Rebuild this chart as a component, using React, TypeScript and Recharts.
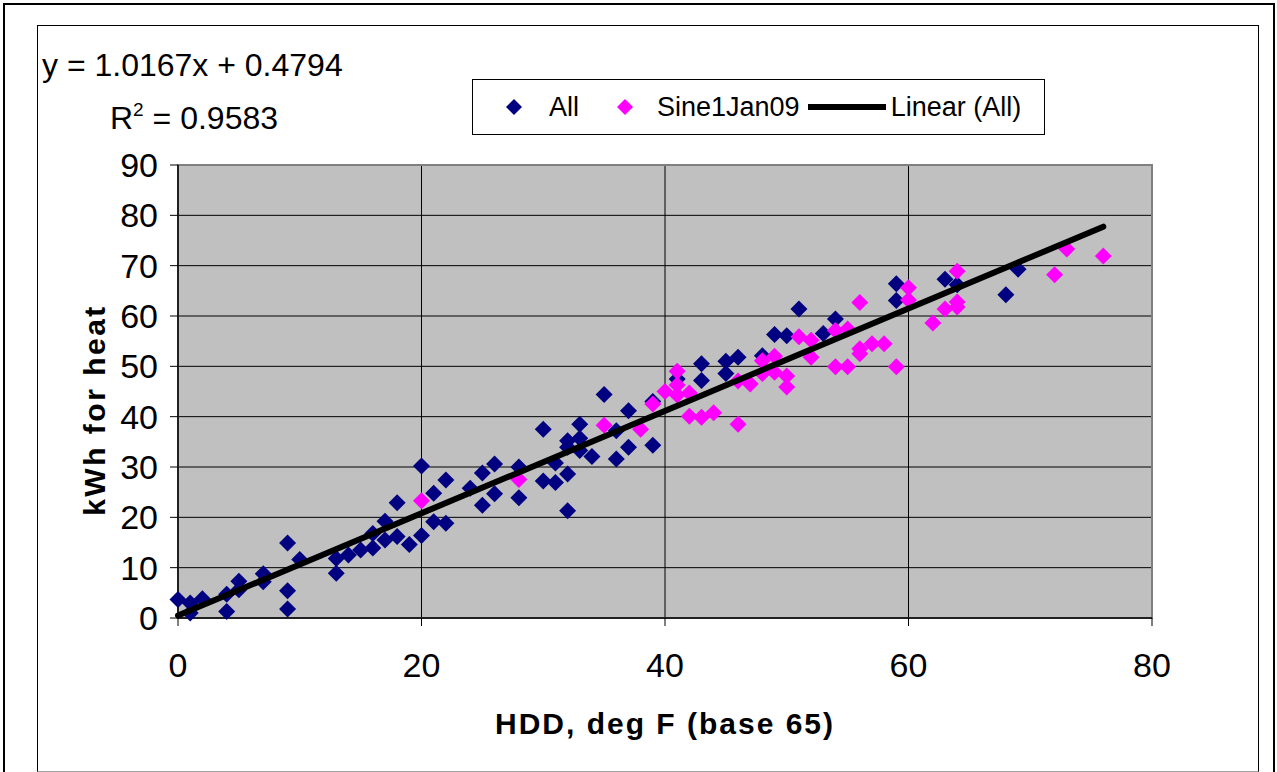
import React from "react";
import {
  ScatterChart,
  Scatter,
  XAxis,
  YAxis,
  CartesianGrid,
  Legend,
  ReferenceArea,
} from "recharts";

// heating degree days vs. kWh used for heat, every day on record
const allHdd = [
  0, 1, 1, 2, 4, 4, 5, 5, 7, 7, 9, 9, 9, 10, 13, 13, 14, 15, 16, 16, 17, 17,
  18, 18, 19, 20, 20, 21, 21, 22, 22, 24, 25, 25, 26, 26, 28, 28, 30, 30, 31,
  31, 32, 32, 32, 32, 33, 33, 33, 34, 35, 36, 36, 37, 37, 39, 39, 41, 43, 43,
  45, 45, 46, 48, 49, 50, 51, 53, 54, 59, 59, 63, 64, 68, 69,
];
const allKwh = [
  3.7, 3.0, 1.0, 3.8, 4.7, 1.3, 7.3, 5.6, 8.8, 7.2, 14.9, 5.4, 1.8, 11.6, 11.8,
  8.9, 12.5, 13.5, 13.9, 16.8, 19.2, 15.5, 22.9, 16.2, 14.6, 30.2, 16.4, 24.8,
  19.1, 27.4, 18.8, 25.8, 28.8, 22.4, 30.6, 24.7, 30.0, 23.9, 37.5, 27.2, 30.8,
  26.9, 28.6, 21.3, 35.2, 33.9, 38.5, 35.7, 33.3, 32.1, 44.4, 31.6, 37.2, 41.2,
  33.9, 34.3, 43.0, 47.5, 50.5, 47.2, 51.0, 48.6, 51.8, 52.1, 56.3, 56.1, 61.4,
  56.5, 59.4, 66.4, 63.1, 67.3, 66.2, 64.2, 69.3,
];

// days since the Jan 09 change
const sineHdd = [
  20, 28, 35, 38, 39, 40, 41, 41, 41, 42, 42, 43, 44, 46, 46, 47, 48, 48, 49,
  49, 50, 50, 51, 52, 52, 54, 55, 54, 55, 56, 56, 56, 57, 58, 59, 60, 60, 62,
  63, 64, 64, 64, 72, 73, 76,
];
const sineKwh = [
  23.3, 27.5, 38.3, 37.5, 42.5, 45.0, 49.0, 46.3, 44.3, 44.7, 40.1, 39.9, 40.8,
  38.5, 47.1, 46.5, 51.1, 48.6, 52.0, 48.8, 48.1, 45.9, 55.9, 55.2, 51.8, 57.1,
  57.4, 49.9, 49.9, 62.7, 53.5, 52.5, 54.5, 54.5, 49.9, 65.6, 63.2, 58.6, 61.4,
  68.9, 62.8, 61.8, 68.2, 73.3, 71.9,
];

// least-squares fit over "All"
const trendSlope = 1.0167;
const trendIntercept = 0.4794;
const trendR2 = 0.9583;
const trendHddRange = [0, 76];

const seriesNames = ["All", "Sine1Jan09", "Linear (All)"];
const xTicks = [0, 20, 40, 60, 80];
const yTicks = [0, 10, 20, 30, 40, 50, 60, 70, 80, 90];

const allData = allHdd.map((x, i) => ({ x, y: allKwh[i] }));
const sineData = sineHdd.map((x, i) => ({ x, y: sineKwh[i] }));
const trendData = trendHddRange.map((x) => ({
  x,
  y: trendSlope * x + trendIntercept,
}));

const FONT = "'Liberation Sans', Arial, Helvetica, sans-serif";
const NAVY = "#000080";
const MAGENTA = "#FF00FF";

const Diamond = (props: any) => {
  const { cx, cy, fill } = props;
  const r = 8.5;
  if (cx == null || cy == null) return <g />;
  return (
    <polygon
      points={`${cx},${cy - r} ${cx + r},${cy} ${cx},${cy + r} ${cx - r},${cy}`}
      fill={fill}
    />
  );
};

const NoDot = () => <g />;

const LegendBox = (props: any) => {
  // keep series order, recharts sorts the payload by name
  const payload = [...(props.payload || [])].sort(
    (a: any, b: any) => seriesNames.indexOf(a.value) - seriesNames.indexOf(b.value)
  );
  const gaps = [32, 37, 8];
  const textGaps = [26, 23, 5];
  return (
    <div
      style={{
        boxSizing: "border-box",
        width: 573,
        height: 56,
        border: "1px solid #000",
        background: "#fff",
        display: "flex",
        alignItems: "center",
        fontFamily: FONT,
        fontSize: 27,
        color: "#000",
      }}
    >
      {payload.map((entry: any, i: number) => (
        <div
          key={entry.value}
          style={{ display: "flex", alignItems: "center", marginLeft: gaps[i] }}
        >
          <svg width={entry.type === "line" ? 78 : 18} height={18}>
            {entry.type === "line" ? (
              <line x1={0} y1={9} x2={78} y2={9} stroke="#000" strokeWidth={6} />
            ) : (
              <polygon points="9,1 17,9 9,17 1,9" fill={entry.color} />
            )}
          </svg>
          <span style={{ marginLeft: textGaps[i], whiteSpace: "nowrap" }}>
            {entry.value}
          </span>
        </div>
      ))}
    </div>
  );
};

export default function App() {
  return (
    <div
      style={{
        position: "absolute",
        left: 0,
        top: 0,
        width: 1277,
        height: 772,
        overflow: "hidden",
        background: "#fff",
        fontFamily: FONT,
      }}
    >
      {/* outer frame */}
      <div
        style={{
          position: "absolute",
          boxSizing: "border-box",
          left: 3,
          top: 3,
          width: 1272,
          height: 830,
          border: "2px solid #000",
        }}
      />
      {/* chart area frame */}
      <div
        style={{
          position: "absolute",
          boxSizing: "border-box",
          left: 37,
          top: 25,
          width: 1222,
          height: 747,
          border: "1px solid #000",
          borderBottomColor: "#a0a0a0",
        }}
      />

      <div style={{ position: "absolute", left: 0, top: 0 }}>
        <ScatterChart
          width={1277}
          height={772}
          margin={{ top: 165, right: 125, bottom: 94, left: 0 }}
        >
          <CartesianGrid
            stroke="#000"
            strokeWidth={1}
            fill="#C0C0C0"
            fillOpacity={1}
            horizontalValues={yTicks}
            verticalValues={xTicks}
          />
          <ReferenceArea
            x1={0}
            x2={80}
            y1={0}
            y2={90}
            fill="none"
            stroke="#808080"
            strokeWidth={2}
          />
          <XAxis
            type="number"
            dataKey="x"
            domain={[0, 80]}
            ticks={xTicks}
            interval={0}
            height={60}
            tickSize={8}
            tickMargin={27}
            axisLine={{ stroke: "#000", strokeWidth: 1.5 }}
            tickLine={{ stroke: "#000" }}
            tick={{ fill: "#000", fontSize: 34, fontFamily: FONT }}
          />
          <YAxis
            type="number"
            dataKey="y"
            domain={[0, 90]}
            ticks={yTicks}
            interval={0}
            width={178}
            tickSize={8}
            tickMargin={12}
            axisLine={{ stroke: "#000", strokeWidth: 1.5 }}
            tickLine={{ stroke: "#000" }}
            tick={{ fill: "#000", fontSize: 34, fontFamily: FONT }}
          />
          <Legend
            layout="vertical"
            align="center"
            verticalAlign="middle"
            content={<LegendBox />}
            wrapperStyle={{ left: 472, top: 79, width: 573, height: 56 }}
          />
          <Scatter
            name="All"
            data={allData}
            fill={NAVY}
            shape={<Diamond />}
            legendType="diamond"
            isAnimationActive={false}
          />
          <Scatter
            name="Sine1Jan09"
            data={sineData}
            fill={MAGENTA}
            shape={<Diamond />}
            legendType="diamond"
            isAnimationActive={false}
          />
          <Scatter
            name="Linear (All)"
            data={trendData}
            fill="#000"
            line={{ stroke: "#000", strokeWidth: 6, strokeLinecap: "round" }}
            shape={<NoDot />}
            legendType="line"
            isAnimationActive={false}
          />
        </ScatterChart>
      </div>

      {/* trendline equation */}
      <div
        style={{
          position: "absolute",
          left: 42,
          top: 45,
          fontSize: 32,
          lineHeight: "40px",
          color: "#000",
          whiteSpace: "nowrap",
        }}
      >
        y = {trendSlope}x + {trendIntercept}
      </div>
      <div
        style={{
          position: "absolute",
          left: 110,
          top: 90,
          fontSize: 32,
          lineHeight: "40px",
          color: "#000",
          whiteSpace: "nowrap",
        }}
      >
        R<sup style={{ fontSize: 19, verticalAlign: "0.7em" }}>2</sup> ={" "}
        {trendR2}
      </div>

      {/* axis titles */}
      <div
        style={{
          position: "absolute",
          left: 95,
          top: 410,
          transform: "translate(-50%, -50%) rotate(-90deg)",
          fontSize: 30,
          fontWeight: "bold",
          letterSpacing: 2.5,
          whiteSpace: "nowrap",
          color: "#000",
        }}
      >
        kWh for heat
      </div>
      <div
        style={{
          position: "absolute",
          left: 665,
          top: 724,
          transform: "translate(-50%, -50%)",
          fontSize: 30,
          fontWeight: "bold",
          letterSpacing: 2,
          whiteSpace: "nowrap",
          color: "#000",
        }}
      >
        HDD, deg F (base 65)
      </div>
    </div>
  );
}
